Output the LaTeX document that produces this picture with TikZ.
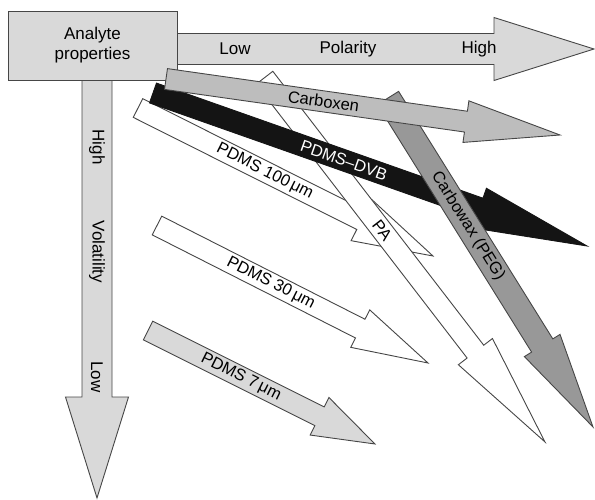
\documentclass[tikz,border=0pt]{standalone}
\usepackage{fontspec}
\setmainfont{Liberation Sans}
\usepackage{tikz}
\usepackage{xcolor}
\usetikzlibrary{calc}
\definecolor{lightgrey}{RGB}{217,217,217}
\definecolor{midgrey}{RGB}{189,189,189}
\definecolor{darkgrey}{RGB}{152,152,152}
\definecolor{edgegrey}{RGB}{70,70,70}
\definecolor{nearblack}{RGB}{20,20,20}

% block arrow from #2 to tip #3: shaft width #4, head width #5, head length #6
\newcommand{\fiberarrow}[6][]{%
  \draw[#1] let \p1=($(#3)-(#2)$), \n1={atan2(\y1,\x1)}, \n2={veclen(\x1,\y1)} in
    [shift={(#2)}, rotate=\n1]
    (0,#4/2) -- (\n2-#6,#4/2) -- (\n2-#6,#5/2) -- (\n2,0)
    -- (\n2-#6,-#5/2) -- (\n2-#6,-#4/2) -- (0,-#4/2) -- cycle;}

\begin{document}
\begin{tikzpicture}[x=1pt, y=-1pt,
    outline/.style={draw=edgegrey, line width=0.9pt, line join=miter},
    axistext/.style={font=\fontsize{17}{20}\selectfont},
    fibertext/.style={font=\fontsize{16.5}{19}\selectfont, inner sep=0pt}]
  \useasboundingbox (0,0) rectangle (595,499);

  % start and tip of every arrow
  \coordinate (polS) at (150,49);     \coordinate (polT) at (594,49);
  \coordinate (volS) at (97,60);      \coordinate (volT) at (97,498);
  \coordinate (p100S) at (138,108);   \coordinate (p100T) at (433,256);
  \coordinate (paS) at (264.5,77.7);  \coordinate (paT) at (545,442);
  \coordinate (dvbS) at (153,93);     \coordinate (dvbT) at (587,246);
  \coordinate (cwxS) at (388,98);     \coordinate (cwxT) at (593,427);
  \coordinate (cbxS) at (166,79);     \coordinate (cbxT) at (560,135);
  \coordinate (p30S) at (157,225.5);  \coordinate (p30T) at (428,363);
  \coordinate (p7S) at (148,330.5);   \coordinate (p7T) at (375,444);

  % axes
  \fiberarrow[outline, fill=lightgrey]{polS}{polT}{31}{63}{100}
  \fiberarrow[outline, fill=lightgrey]{volS}{volT}{30}{63}{101}
  \node[outline, fill=lightgrey, minimum width=169pt, minimum height=69pt, align=center, axistext] (analyte) at (92.5,45.5) {Analyte\\properties};

  \node[axistext] (polLow) at (235,49) {Low};
  \node[axistext] (polName) at (348,49) {Polarity};
  \node[axistext] (polHigh) at (479,49) {High};
  \node[axistext, rotate=-90] (volHigh) at (97,147) {High};
  \node[axistext, rotate=-90] (volName) at (97,252) {Volatility};
  \node[axistext, rotate=-90] (volLow) at (97,377) {Low};

  % fibre coatings
  \fiberarrow[outline, fill=white]{p100S}{p100T}{21}{46}{80}
  \path (p100S) -- node[pos=0.43, sloped, fibertext] (p100label) {PDMS 100\,μm} (p100T);

  \fiberarrow[outline, fill=white]{paS}{paT}{21}{43}{114}
  \path (paS) -- node[pos=0.42, sloped, fibertext] (palabel) {PA} (paT);

  \fiberarrow[draw=nearblack, line width=0.9pt, fill=nearblack]{dvbS}{dvbT}{21}{42}{114}
  \path (dvbS) -- node[pos=0.44, sloped, fibertext, text=white] (dvblabel) {PDMS--DVB} (dvbT);

  \fiberarrow[outline, fill=darkgrey]{cwxS}{cwxT}{25}{42}{96}
  \path (cwxS) -- node[pos=0.39, sloped, fibertext] (cwxlabel) {Carbowax (PEG)} (cwxT);

  \fiberarrow[outline, fill=midgrey]{cbxS}{cbxT}{21}{42}{95}
  \path (cbxS) -- node[pos=0.40, sloped, fibertext] (cbxlabel) {Carboxen} (cbxT);

  \fiberarrow[outline, fill=white]{p30S}{p30T}{21}{42}{76}
  \path (p30S) -- node[pos=0.42, sloped, fibertext] (p30label) {PDMS 30\,μm} (p30T);

  \fiberarrow[outline, fill=lightgrey]{p7S}{p7T}{21}{42}{62}
  \path (p7S) -- node[pos=0.41, sloped, fibertext] (p7label) {PDMS 7\,μm} (p7T);
\end{tikzpicture}
\end{document}
